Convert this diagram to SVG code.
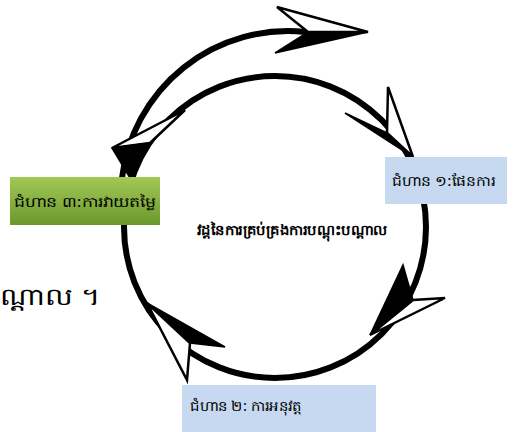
<svg xmlns="http://www.w3.org/2000/svg" width="513" height="432" viewBox="0 0 513 432">
<defs>
<linearGradient id="g" x1="0" y1="0" x2="0" y2="1">
<stop offset="0" stop-color="#a2c957"/>
<stop offset="1" stop-color="#6b972c"/>
</linearGradient>
</defs>
<style>
.ring{fill:none;stroke:#000;stroke-width:6;stroke-linecap:round}
.hw{fill:#fff;stroke:#000;stroke-width:2.5;stroke-linejoin:miter}
.hb{fill:#000;stroke:#000;stroke-width:1.5;stroke-linejoin:miter}
.t{font-family:"Noto Sans","DejaVu Sans",sans-serif;fill:#000}
.box{fill:#c6d9f1}
</style>
<rect width="513" height="432" fill="#fff"/>
<g id="connectors">
<circle class="ring" cx="275" cy="227" r="151"/>
<path class="ring" d="M122,178 A167,167 0 0 1 305,32"/>
<!-- top arrow -->
<polygon class="hw" points="368,32 277,7 308,32"/>
<polygon class="hb" points="368,32 308,32 275,53"/>
<!-- top-right arrow -->
<polygon class="hw" points="413,157 388,87 387,133"/>
<polygon class="hb" points="413,157 387,133 345,113"/>
<!-- right-lower arrow -->
<polygon class="hb" points="370,335 403,265 413,300"/>
<polygon class="hw" points="370,335 413,300 445,298"/>
<!-- bottom-left arrow -->
<polygon class="hb" points="147,303 225,347 190,343"/>
<polygon class="hw" points="147,303 190,343 187,380"/>
<!-- left-top arrow -->
<polygon class="hw" points="112,148 185,110 150,143"/>
<polygon class="hb" points="112,148 150,143 130,178"/>
</g>
<g id="node-step3">
<rect x="10" y="177" width="150" height="48" fill="url(#g)"/>
<text class="t" x="14" y="207" font-size="14" textLength="142" lengthAdjust="spacingAndGlyphs">ជំហាន ៣:ការវាយតម្លៃ</text>
</g>
<g id="node-step1">
<rect class="box" x="385" y="157" width="122" height="47"/>
<text class="t" x="392" y="186" font-size="14" textLength="103" lengthAdjust="spacingAndGlyphs">ជំហាន ១:ផែនការ</text>
</g>
<g id="node-step2">
<rect class="box" x="182" y="385" width="194" height="47"/>
<text class="t" x="190" y="411" font-size="14" textLength="112" lengthAdjust="spacingAndGlyphs">ជំហាន ២: ការអនុវត្ត</text>
</g>
<g id="node-center">
<text class="t" x="197" y="235" font-size="14" font-weight="bold" textLength="190" lengthAdjust="spacingAndGlyphs">វដ្តនៃការគ្រប់គ្រងការបណ្តុះបណ្តាល</text>
</g>
<g id="fragment">
<text class="t" x="0" y="305" font-size="24" textLength="100" lengthAdjust="spacingAndGlyphs">ណ្ដាល ។</text>
</g>
</svg>
